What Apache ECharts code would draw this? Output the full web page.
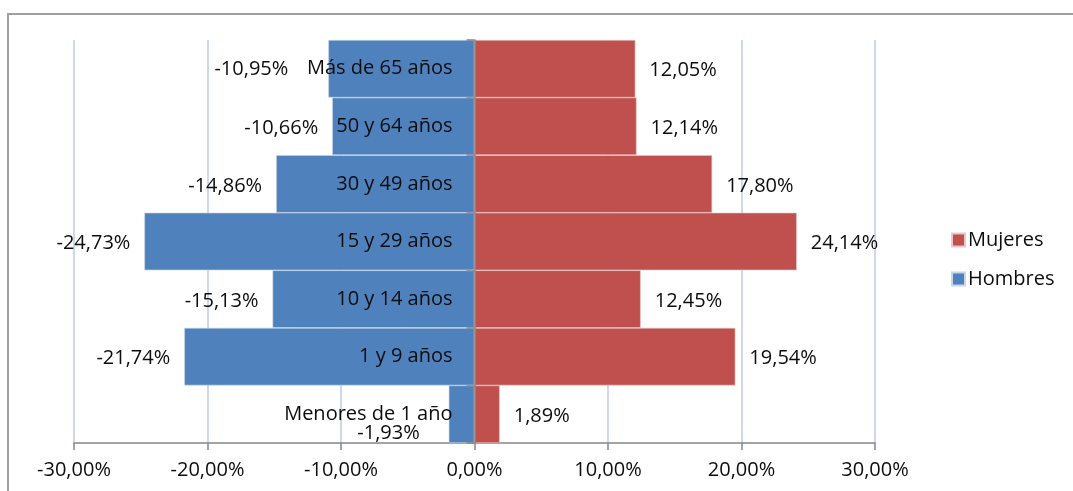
<!DOCTYPE html>
<html>
<head>
<meta charset="utf-8">
<script src="https://cdn.jsdelivr.net/npm/echarts@6/dist/echarts.min.js"></script>
<style>
html,body{margin:0;padding:0;background:#fff;}
#chart{width:1073px;height:491px;}
</style>
</head>
<body>
<div id="chart"></div>
<script>
var categories = ['Menores de 1 año', '1 y 9 años', '10 y 14 años', '15 y 29 años', '30 y 49 años', '50 y 64 años', 'Más de 65 años'];
var hombres = [-1.93, -21.74, -15.13, -24.73, -14.86, -10.66, -10.95];
var mujeres = [1.89, 19.54, 12.45, 24.14, 17.80, 12.14, 12.05];
var xTicks = [-30, -20, -10, 0, 10, 20, 30];

var FONT = '"Open Sans", sans-serif';
var TXT = '#0d0d0d';
function pct(v) { return v.toFixed(2).replace('.', ',') + '%'; }

var hombresData = hombres.map(function (v, i) {
  var d = { value: v };
  if (i === 0) d.label = { offset: [-15, 19] };
  if (i === 6) d.label = { offset: [-26, 1] };
  return d;
});

var chart = echarts.init(document.getElementById('chart'));
chart.setOption({
  animation: false,
  textStyle: { fontFamily: FONT },
  graphic: [{
    type: 'rect', silent: true, z: 100,
    shape: { x: 8, y: 14, width: 1200, height: 600 },
    style: { fill: 'none', stroke: '#a0a0a0', lineWidth: 2 }
  }],
  legend: {
    orient: 'vertical', left: 946, top: 225,
    itemWidth: 13, itemHeight: 13, itemGap: 19,
    icon: 'rect',
    textStyle: { fontFamily: FONT, fontSize: 20, color: TXT, padding: [0, 0, 0, -2] },
    data: ['Mujeres', 'Hombres']
  },
  grid: { left: 74, right: 198, top: 40, bottom: 48, containLabel: false, outerBoundsMode: 'none' },
  xAxis: {
    type: 'value', min: -30, max: 30, interval: 10,
    axisLine: { show: true, onZero: false, lineStyle: { color: '#868686', width: 1.5 } },
    axisTick: { show: true, length: 7, lineStyle: { color: '#868686', width: 1.5 } },
    axisLabel: {
      margin: 17, fontFamily: FONT, fontSize: 20, color: TXT,
      formatter: function (v) { return xTicks.indexOf(v) >= 0 ? pct(v) : ''; }
    },
    splitLine: { show: true, lineStyle: { color: '#bccbeb', width: 1.5 } }
  },
  yAxis: {
    type: 'category', data: categories, z: 10,
    offset: -400.5,
    axisLine: { show: true, onZero: false, lineStyle: { color: '#868686', width: 1.5 } },
    axisTick: { show: true, length: 8, lineStyle: { color: '#868686', width: 1.5 } },
    axisLabel: { margin: 22, fontFamily: FONT, fontSize: 20, color: TXT, padding: [3, 0, 0, 0] },
    splitLine: { show: false }
  },
  series: [
    {
      name: 'Mujeres', type: 'bar', data: mujeres, barWidth: '100%', barGap: '-100%',
      itemStyle: { color: '#C0504D', borderColor: '#e8c8c7', borderWidth: 0.6 },
      label: {
        show: true, position: 'right', distance: 14, offset: [0, 2],
        fontFamily: FONT, fontSize: 20, color: TXT,
        formatter: function (p) { return pct(p.value); }
      }
    },
    {
      name: 'Hombres', type: 'bar', data: hombresData, barWidth: '100%', barGap: '-100%',
      itemStyle: { color: '#4F81BD', borderColor: '#c9d6e9', borderWidth: 0.6 },
      label: {
        show: true, position: 'left', distance: 14, offset: [0, 2],
        fontFamily: FONT, fontSize: 20, color: TXT,
        formatter: function (p) { return pct(p.value); }
      }
    }
  ]
});
</script>
</body>
</html>
